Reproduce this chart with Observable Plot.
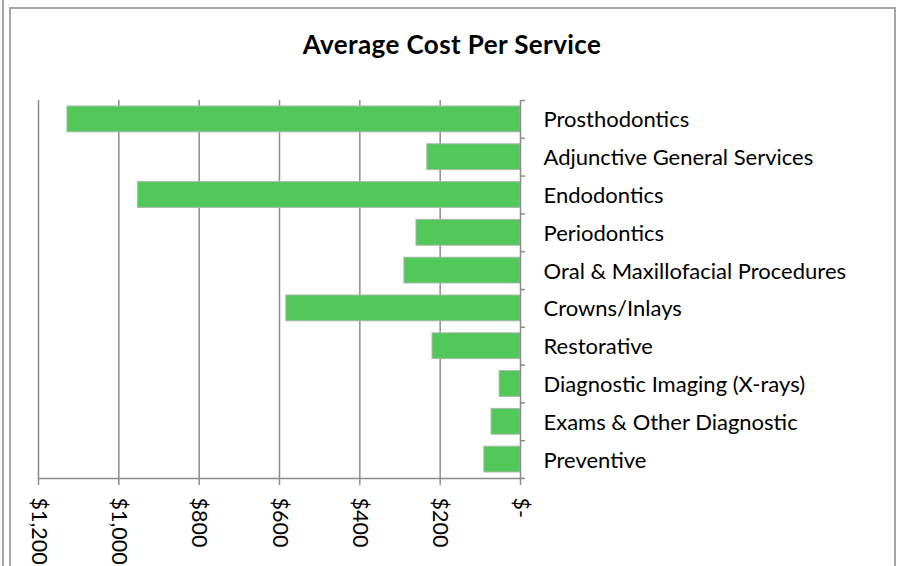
<!DOCTYPE html>
<html><head><meta charset="utf-8">
<script src="https://cdn.jsdelivr.net/npm/d3@7"></script>
<script src="https://cdn.jsdelivr.net/npm/@observablehq/plot@0.6"></script>
<style>
body{margin:0;background:#fff;font-family:Lato,"Open Sans",sans-serif;}
#wrap{position:relative;width:898px;height:566px;overflow:hidden;background:#fff;}
#edge{position:absolute;left:2px;top:0;width:2px;height:566px;background:#a6a6a6;}
#frame{position:absolute;left:9px;top:7px;width:883px;height:600px;border:2px solid #a6a6a6;border-bottom:none;}
#title{position:absolute;left:9px;width:886px;top:29px;text-align:center;font-weight:bold;font-size:26px;letter-spacing:0.4px;line-height:30px;color:#000;}
#chart{position:absolute;left:0;top:60px;}
</style></head>
<body>
<div id="wrap">
  <div id="edge"></div>
  <div id="frame"></div>
  <div id="title">Average Cost Per Service</div>
  <div id="chart"></div>
</div>
<script>
const categories = ["Prosthodontics","Adjunctive General Services","Endodontics","Periodontics","Oral & Maxillofacial Procedures","Crowns/Inlays","Restorative","Diagnostic Imaging (X-rays)","Exams & Other Diagnostic","Preventive"];
const costs = [1128, 232, 952, 259, 289, 583, 219, 52, 72, 90];
const xTicks = [0, 200, 400, 600, 800, 1000, 1200];
const xTickLabels = ["$-", "$200", "$400", "$600", "$800", "$1,000", "$1,200"];

const data = categories.map((c, i) => ({category: c, cost: costs[i], i}));
const n = categories.length;
const grid = "#8c8c8c";

const plot = Plot.plot({
  width: 898,
  height: 506,
  marginTop: 40,
  marginBottom: 88,
  marginLeft: 38,
  marginRight: 378,
  style: {fontFamily: "Lato, 'Open Sans', sans-serif", fontSize: "22px", color: "#000", background: "transparent"},
  x: {domain: [0, 1200], reverse: true},
  y: {domain: [0, n], reverse: true},
  marks: [
    Plot.ruleX(xTicks.filter(d => d > 0), {stroke: grid, strokeWidth: 1.5}),
    Plot.rectX(data, {x1: 0, x2: "cost", y1: "i", y2: d => d.i + 1, insetTop: 6, insetBottom: 6, fill: "#52c75a", stroke: "#a9b9aa", strokeWidth: 1}),
    Plot.ruleX([0], {stroke: grid, strokeWidth: 1.5}),
    Plot.ruleY([n], {stroke: grid, strokeWidth: 1.5}),
    Plot.axisX({anchor: "bottom", ticks: xTicks, tickSize: 7, tickPadding: 12, tickRotate: 90,
      tickFormat: d => xTickLabels[xTicks.indexOf(d)], stroke: grid, strokeWidth: 1.5, fill: "#000", fontSize: 21.5, label: null}),
    Plot.axisY({anchor: "right", ticks: d3.range(0, n + 1), tickSize: 4, tickFormat: () => "", stroke: grid, strokeWidth: 1.5, label: null}),
    Plot.text(data, {x: 0, y: d => d.i + 0.5, text: "category", dx: 23, dy: 1, textAnchor: "start", fill: "#000", fontSize: 22})
  ]
});
document.getElementById("chart").appendChild(plot);
</script>
</body></html>
